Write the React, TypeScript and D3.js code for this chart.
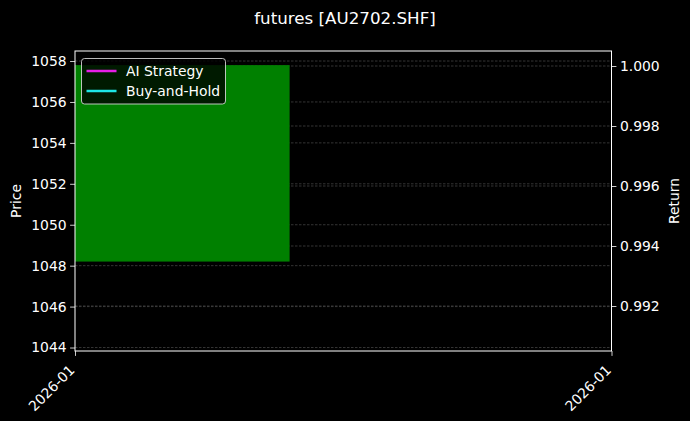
import { useEffect, useRef } from 'react';
import * as d3 from 'd3';

// one daily bar
const barDates = ['2026-01-05'];
const barOpen = [1057.8];
const barClose = [1048.2];

// return series (a single point each, so no visible line)
const strategyReturn = [1.0];
const holdReturn = [1.0];

const priceTicks = [1044, 1046, 1048, 1050, 1052, 1054, 1056, 1058];
const returnTicks = [0.992, 0.994, 0.996, 0.998, 1.0];
const priceLimits: [number, number] = [1043.83, 1058.49];
const returnLimits: [number, number] = [0.9905, 1.0005];

const SERIES = [
  { label: 'AI Strategy', color: '#e61ee6', values: strategyReturn },
  { label: 'Buy-and-Hold', color: '#1ee6e6', values: holdReturn },
];

const DAY = 24 * 3600 * 1000;

export default function App() {
  const svgRef = useRef<SVGSVGElement>(null);

  useEffect(() => {
    if (!svgRef.current) return;
    const width = 690;
    const height = 421;
    const margin = { top: 51, right: 78.5, bottom: 70, left: 75 };
    const innerWidth = width - margin.left - margin.right;
    const innerHeight = height - margin.top - margin.bottom;
    const font = '"DejaVu Sans", sans-serif';

    const svg = d3.select(svgRef.current);
    svg.selectAll('*').remove();
    svg.attr('width', width).attr('height', height).style('background', '#000');

    const dates = barDates.map((d) => d3.timeParse('%Y-%m-%d')(d) as Date);
    const barWidth = 0.8 * DAY;
    const xStart = new Date(dates[0].getTime() - barWidth / 2);
    const xEnd = new Date(dates[0].getTime() + 2 * DAY - barWidth / 2);

    const xScale = d3.scaleTime().domain([xStart, xEnd]).range([0, innerWidth]);
    const yPrice = d3.scaleLinear().domain(priceLimits).range([innerHeight, 0]);
    const yRet = d3.scaleLinear().domain(returnLimits).range([innerHeight, 0]);

    svg
      .append('text')
      .attr('x', width / 2)
      .attr('y', 24)
      .attr('text-anchor', 'middle')
      .style('font-family', font)
      .style('font-size', '16.7px')
      .attr('fill', '#fff')
      .text('futures [AU2702.SHF]');

    const g = svg.append('g').attr('transform', `translate(${margin.left},${margin.top})`);

    // grids for both y axes
    const gridStyle = (sel: any) =>
      sel
        .attr('stroke', '#4a4a4a')
        .attr('stroke-width', 0.7)
        .attr('stroke-dasharray', '2.5,1.5');

    g.selectAll('.grid-price')
      .data(priceTicks)
      .enter()
      .append('line')
      .attr('x1', 0)
      .attr('x2', innerWidth)
      .attr('y1', (d) => yPrice(d))
      .attr('y2', (d) => yPrice(d))
      .call(gridStyle);

    g.selectAll('.grid-ret')
      .data(returnTicks)
      .enter()
      .append('line')
      .attr('x1', 0)
      .attr('x2', innerWidth)
      .attr('y1', (d) => yRet(d))
      .attr('y2', (d) => yRet(d))
      .call(gridStyle);

    // price bars
    g.selectAll('.bar')
      .data(dates)
      .enter()
      .append('rect')
      .attr('x', (d) => xScale(new Date(d.getTime() - barWidth / 2)))
      .attr('width', (d) => xScale(new Date(d.getTime() + barWidth / 2)) - xScale(new Date(d.getTime() - barWidth / 2)))
      .attr('y', (_, i) => yPrice(Math.max(barOpen[i], barClose[i])))
      .attr('height', (_, i) => Math.abs(yPrice(barOpen[i]) - yPrice(barClose[i])))
      .attr('fill', '#008000');

    // return lines
    const line = d3
      .line<number>()
      .x((_, i) => xScale(dates[i]))
      .y((d) => yRet(d));

    SERIES.forEach((s) => {
      g.append('path')
        .attr('d', line(s.values))
        .attr('fill', 'none')
        .attr('stroke', s.color)
        .attr('stroke-width', 2);
    });

    // axes
    const styleAxis = (sel: any) => {
      sel.select('.domain').remove();
      sel.selectAll('line').attr('stroke', '#fff').attr('stroke-width', 0.8);
      sel.selectAll('text').attr('fill', '#fff').style('font-family', font).style('font-size', '13.9px');
    };

    g.append('g')
      .call(d3.axisLeft(yPrice).tickValues(priceTicks).tickFormat(d3.format('d')).tickSize(4.9).tickPadding(3.5))
      .call(styleAxis);

    g.append('g')
      .attr('transform', `translate(${innerWidth},0)`)
      .call(d3.axisRight(yRet).tickValues(returnTicks).tickFormat(d3.format('.3f')).tickSize(4.9).tickPadding(3.5))
      .call(styleAxis);

    const xAxisG = g
      .append('g')
      .attr('transform', `translate(0,${innerHeight})`)
      .call(d3.axisBottom(xScale).tickValues([xStart, xEnd]).tickFormat((v) => d3.timeFormat('%Y-%m')(v as Date)).tickSize(4.9))
      .call(styleAxis);

    xAxisG
      .selectAll('text')
      .attr('text-anchor', 'end')
      .attr('y', 0)
      .attr('dy', 0)
      .attr('transform', 'translate(0,20) rotate(-45)');

    // frame
    g.append('rect')
      .attr('width', innerWidth)
      .attr('height', innerHeight)
      .attr('fill', 'none')
      .attr('stroke', '#fff')
      .attr('stroke-width', 1);

    svg
      .append('text')
      .attr('transform', `translate(21,${margin.top + innerHeight / 2}) rotate(-90)`)
      .attr('text-anchor', 'middle')
      .style('font-family', font)
      .style('font-size', '13.9px')
      .attr('fill', '#fff')
      .text('Price');

    svg
      .append('text')
      .attr('transform', `translate(679,${margin.top + innerHeight / 2}) rotate(-90)`)
      .attr('text-anchor', 'middle')
      .style('font-family', font)
      .style('font-size', '13.9px')
      .attr('fill', '#fff')
      .text('Return');

    // legend
    const legend = svg.append('g').attr('transform', 'translate(81.5,58.5)');
    legend
      .append('rect')
      .attr('width', 144)
      .attr('height', 45.5)
      .attr('rx', 3)
      .attr('fill', 'rgba(0,0,0,0.8)')
      .attr('stroke', 'rgba(220,220,220,0.85)')
      .attr('stroke-width', 1);

    SERIES.forEach((s, i) => {
      const y = 12.5 + i * 20;
      legend
        .append('line')
        .attr('x1', 5)
        .attr('x2', 35)
        .attr('y1', y)
        .attr('y2', y)
        .attr('stroke', s.color)
        .attr('stroke-width', 2.5);
      legend
        .append('text')
        .attr('x', 44.5)
        .attr('y', y)
        .attr('dy', '0.35em')
        .style('font-family', font)
        .style('font-size', '13.9px')
        .attr('fill', '#fff')
        .text(s.label);
    });
  }, []);

  return (
    <div style={{ position: 'fixed', left: 0, top: 0, width: 690, height: 421, background: '#000' }}>
      <svg ref={svgRef} style={{ display: 'block' }}></svg>
    </div>
  );
}
